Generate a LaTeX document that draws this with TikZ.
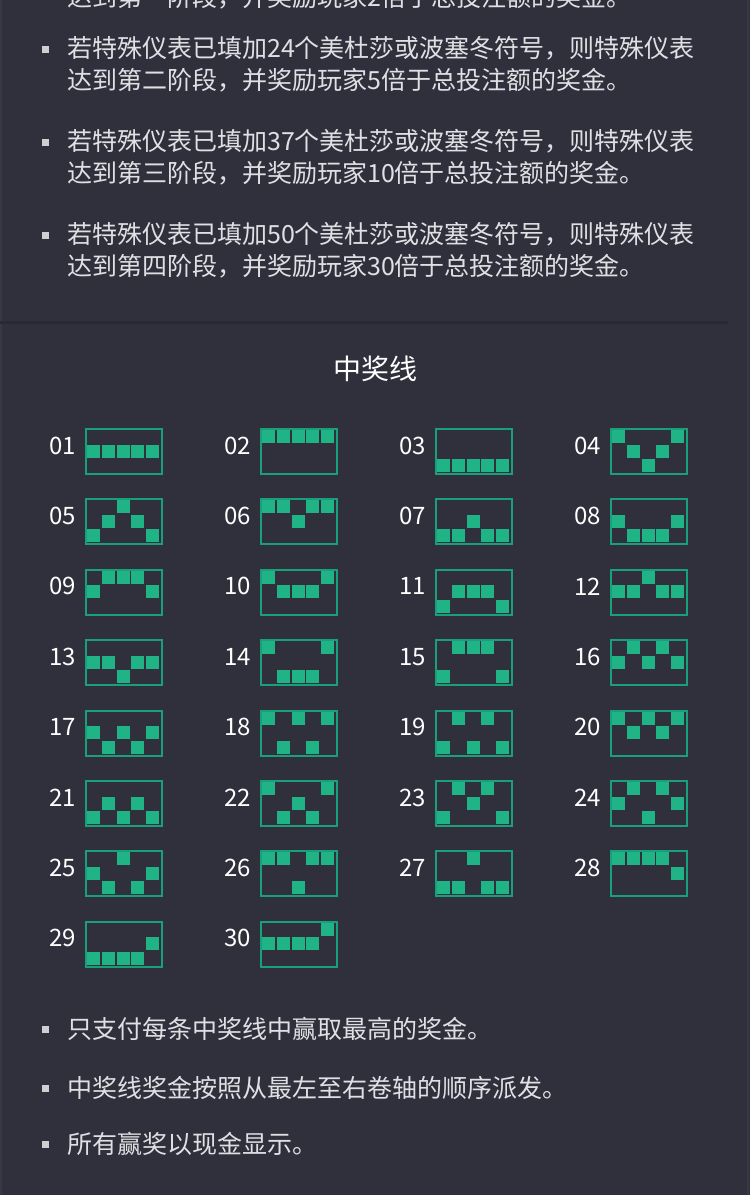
\documentclass[tikz,border=0pt]{standalone}
\usepackage{fontspec}
\setmainfont{Noto Sans CJK SC}
\definecolor{bg}{HTML}{30303D}
\definecolor{rulecol}{HTML}{292934}
\definecolor{edgecol}{HTML}{383845}
\definecolor{txt}{HTML}{E0E0E4}
\definecolor{jade}{HTML}{17A07B}
\definecolor{jadefill}{HTML}{1FB386}
\begin{document}
\begin{tikzpicture}[x=1pt,y=-1pt,
    item/.style={anchor=west,text=txt,inner sep=0pt,align=left,font=\fontsize{25}{32}\selectfont},
    dot/.style={fill=txt!90!bg,minimum size=7pt,inner sep=0pt},
    linebox/.style={draw=jade,line width=2pt,minimum width=76pt,minimum height=45pt,inner sep=0pt,anchor=north west},
    num/.style={text=white,anchor=east,inner sep=0pt,font=\fontsize{24}{24}\selectfont},
    cell/.style={fill=jadefill}]
  \fill[bg] (0,0) rectangle (750,1195);
  \clip (0,0) rectangle (750,1195);
  \draw[edgecol, line width=2pt] (1,0) -- (1,1195);
  \draw[edgecol, line width=2pt] (748,0) -- (748,1195);
  \node[item] (t0) at (67,-3) {达到第一阶段，并奖励玩家2倍于总投注额的奖金。};
  \node[dot] (b1) at (45,49) {};
  \node[item] (t1) at (67,64) {若特殊仪表已填加24个美杜莎或波塞冬符号，则特殊仪表\\达到第二阶段，并奖励玩家5倍于总投注额的奖金。};
  \node[dot] (b2) at (45,142) {};
  \node[item] (t2) at (67,157) {若特殊仪表已填加37个美杜莎或波塞冬符号，则特殊仪表\\达到第三阶段，并奖励玩家10倍于总投注额的奖金。};
  \node[dot] (b3) at (45,235) {};
  \node[item] (t3) at (67,250) {若特殊仪表已填加50个美杜莎或波塞冬符号，则特殊仪表\\达到第四阶段，并奖励玩家30倍于总投注额的奖金。};
  \draw[rulecol, line width=3pt] (0,322) -- (728,322);
  \node[text=white, font=\fontsize{28}{28}\selectfont] (title) at (375,369) {中奖线};
  \foreach \n/\a/\b/\c/\d/\e [count=\k from 0] in {
      01/1/1/1/1/1, 02/0/0/0/0/0, 03/2/2/2/2/2, 04/0/1/2/1/0,
      05/2/1/0/1/2, 06/0/0/1/0/0, 07/2/2/1/2/2, 08/1/2/2/2/1,
      09/1/0/0/0/1, 10/0/1/1/1/0, 11/2/1/1/1/2, 12/1/1/0/1/1,
      13/1/1/2/1/1, 14/0/2/2/2/0, 15/2/0/0/0/2, 16/1/0/1/0/1,
      17/1/2/1/2/1, 18/0/2/0/2/0, 19/2/0/2/0/2, 20/0/1/0/1/0,
      21/2/1/2/1/2, 22/0/2/1/2/0, 23/2/0/1/0/2, 24/1/0/2/0/1,
      25/1/2/0/2/1, 26/0/0/2/0/0, 27/2/2/0/2/2, 28/0/0/0/0/1,
      29/2/2/2/2/1, 30/1/1/1/1/0} {
    \pgfmathsetmacro\bx{85+175*mod(\k,4)}
    \pgfmathsetmacro\by{428+70.4*int(\k/4)}
    \node[linebox] (pl\n) at (\bx,\by) {};
    \node[num] (no\n) at ([xshift=-9pt,yshift=6pt]pl\n.west) {\n};
    \foreach \r [count=\j from 0] in {\a,\b,\c,\d,\e}
      \fill[cell] ([shift={(2+14.75*\j,2+14.5*\r)}]pl\n.north west) rectangle ++(13,13);
  }
  \node[dot] (b4) at (45,1029) {};
  \node[item] (t4) at (67,1029) {只支付每条中奖线中赢取最高的奖金。};
  \node[dot] (b5) at (45,1088) {};
  \node[item] (t5) at (67,1088) {中奖线奖金按照从最左至右卷轴的顺序派发。};
  \node[dot] (b6) at (45,1144) {};
  \node[item] (t6) at (67,1144) {所有赢奖以现金显示。};
\end{tikzpicture}
\end{document}
